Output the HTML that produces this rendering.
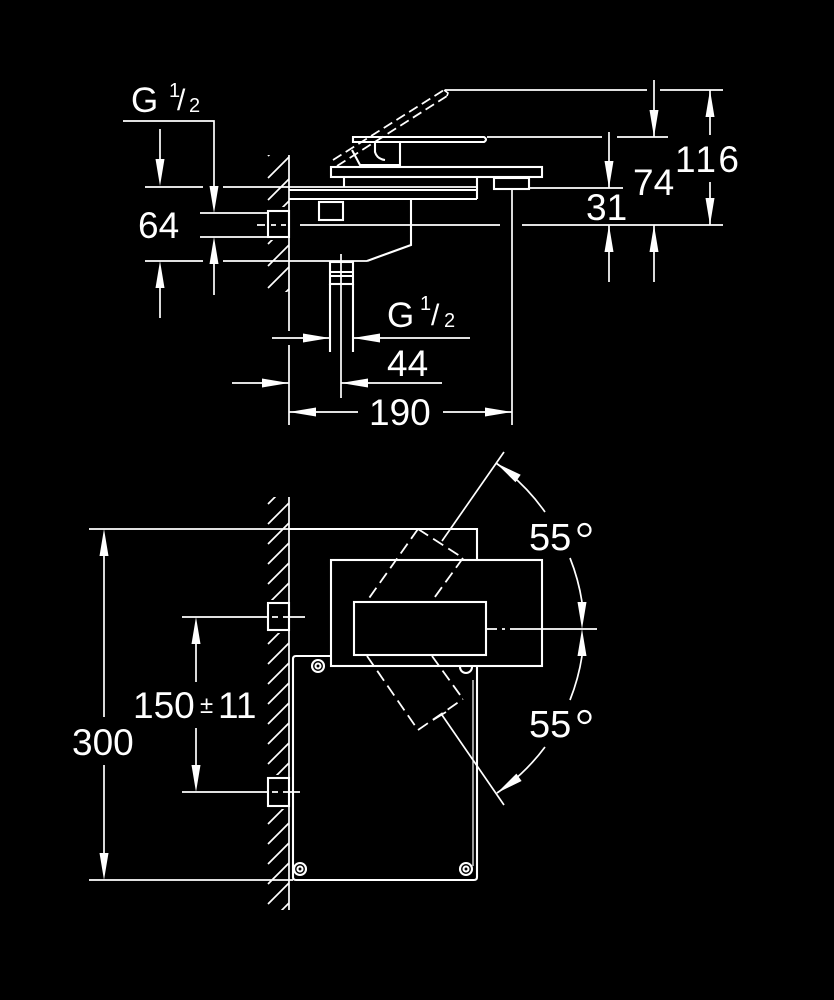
<!DOCTYPE html>
<html><head><meta charset="utf-8"><style>
html,body{margin:0;padding:0;background:#000;}
svg{display:block;}
text{font-family:"Liberation Sans",Arial,sans-serif;fill:#fff;}
</style></head><body>
<svg width="834" height="1000" viewBox="0 0 834 1000" xmlns="http://www.w3.org/2000/svg">
<rect width="834" height="1000" fill="#000"/>
<defs>
<clipPath id="ht"><rect x="266" y="155" width="23" height="52"/><rect x="266" y="240" width="23" height="52"/></clipPath>
<clipPath id="hb"><rect x="266" y="497" width="23" height="103"/><rect x="266" y="633" width="23" height="142"/><rect x="266" y="809" width="23" height="101"/></clipPath>
</defs>

<!-- ============ TOP DRAWING ============ -->
<g stroke="#fff" fill="none" stroke-width="1.7">
<path clip-path="url(#ht)" d="M268,156L289,135 M268,178L289,157 M268,200L289,179 M268,222L289,201 M268,244L289,223 M268,266L289,245 M268,288L289,267 M268,310L289,289"/>
<path d="M289,155V331 M289,345V425"/>
<path d="M123,121H214V190 M145,187H203 M223,187H477 M200,213H268 M200,237H268 M145,261H203 M223,261H367"/>
<path d="M160,129V170 M160,275V318 M214,250V295"/>
<path d="M257,225H265 M271,225H276 M281,225H286 M300,225H500 M522,225H723"/>
<path d="M445,90H647 M660,90H723 M487,137H602 M617,137H668 M529,188H623"/>
<path d="M710,90V135 M710,182V225 M654,80V137 M654,225V282 M609,132V188 M609,225V282"/>
<path d="M272,338H330 M353,338H470 M232,383H289 M341,383H442 M289,412H358 M443,412H512"/>
<path d="M512,189V425 M341,254V398"/>
</g>
<g stroke="#fff" fill="none" stroke-width="2.1">
<rect x="268" y="211" width="21" height="26"/>
<rect x="331" y="167" width="211" height="10"/>
<path d="M344,177V187 M477,177V199 M289,190H477 M289,199H477"/>
<rect x="319" y="202" width="24" height="18"/>
<path d="M411,199V245L367,261"/>
<rect x="494" y="178" width="35" height="11"/>
<rect x="330" y="262" width="23" height="22"/>
<path d="M330,272H353 M330,276H353 M330,284V352 M353,284V352"/>
<path d="M353,137H484Q488,139.5 484,142H353Z"/>
<path d="M352,150L360,165H400V142 M375,142V152Q377,159 385,160"/>
</g>
<g stroke="#fff" fill="none" stroke-width="1.8" stroke-dasharray="10,5">
<path d="M333,160L444,90 M337,166L447,96"/>
</g>
<path d="M444,90L448,93L447,96" stroke="#fff" fill="none" stroke-width="1.6"/>

<g fill="#fff">
<polygon points="160,186 155.5,159 164.5,159"/>
<polygon points="160,261 155.5,288 164.5,288"/>
<polygon points="214,213 209.5,186 218.5,186"/>
<polygon points="214,237 209.5,264 218.5,264"/>
<polygon points="710,90 705.5,117 714.5,117"/>
<polygon points="710,225 705.5,198 714.5,198"/>
<polygon points="654,137 649.5,110 658.5,110"/>
<polygon points="654,225 649.5,252 658.5,252"/>
<polygon points="609,188 604.5,161 613.5,161"/>
<polygon points="609,225 604.5,252 613.5,252"/>
<polygon points="330,338 303,333.5 303,342.5"/>
<polygon points="353,338 380,333.5 380,342.5"/>
<polygon points="289,383 262,378.5 262,387.5"/>
<polygon points="341,383 368,378.5 368,387.5"/>
<polygon points="289,412 316,407.5 316,416.5"/>
<polygon points="512,412 485,407.5 485,416.5"/>
</g>

<text x="131" y="112" font-size="35">G</text>
<text x="169" y="97" font-size="20">1</text>
<text x="177" y="110" font-size="30">/</text>
<text x="189" y="112" font-size="20">2</text>
<text x="138" y="238" font-size="37">64</text>
<text x="675" y="172" font-size="37" letter-spacing="2.5">116</text>
<text x="633" y="195" font-size="37">74</text>
<text x="586" y="220" font-size="37">31</text>
<text x="387" y="327" font-size="35">G</text>
<text x="420" y="310" font-size="20">1</text>
<text x="431" y="325" font-size="30">/</text>
<text x="444" y="327" font-size="20">2</text>
<text x="387" y="376" font-size="37">44</text>
<text x="369" y="425" font-size="37">190</text>

<!-- ============ BOTTOM DRAWING ============ -->
<g stroke="#fff" fill="none" stroke-width="1.7">
<path clip-path="url(#hb)" d="M268,504L289,483 M268,524L289,503 M268,544L289,523 M268,564L289,543 M268,584L289,563 M268,604L289,583 M268,624L289,603 M268,644L289,623 M268,664L289,643 M268,684L289,663 M268,704L289,683 M268,724L289,703 M268,744L289,723 M268,764L289,743 M268,784L289,763 M268,804L289,783 M268,824L289,803 M268,844L289,823 M268,864L289,843 M268,884L289,863 M268,904L289,883 M268,924L289,903"/>
<path d="M289,497V910"/>
<path d="M89,529H289 M89,880H293"/>
<path d="M104,556V717 M104,765V853"/>
<path d="M182,617H268 M272,617H278 M283,617H305 M182,792H268 M272,792H278 M283,792H300"/>
<path d="M196,644V682 M196,728V765"/>
<path d="M486,629H497 M502,629H505 M510,629H597"/>
<path d="M442,541L504,452 M442,715L504,805 M433,720L446,712"/>
<path d="M496,463A202,202 0 0 1 545,512 M570,558A202,202 0 0 1 582,602 M582,656A202,202 0 0 1 570,700 M545,747A202,202 0 0 1 497,793"/>
</g>
<g stroke="#fff" fill="none" stroke-width="2.1">
<rect x="268" y="603" width="21" height="27"/>
<rect x="268" y="778" width="21" height="28"/>
<path d="M289,529H477V560"/>
<rect x="331" y="560" width="211" height="106"/>
<rect x="354" y="602" width="132" height="53"/>
<path d="M331,656H296Q293,656 293,659V877Q293,880 296,880H474Q477,880 477,877V666"/>
<path d="M473,680V866" stroke-width="1.2"/>
<circle cx="300" cy="869" r="6"/><circle cx="300" cy="869" r="2.5"/>
<circle cx="466" cy="869" r="6"/><circle cx="466" cy="869" r="2.5"/>
<circle cx="318" cy="666" r="6"/><circle cx="318" cy="666" r="2.5"/>
<path d="M460,667A6,6 0 0 0 472,667"/>
</g>
<g stroke="#fff" fill="none" stroke-width="1.8" stroke-dasharray="12,6">
<path d="M418,529L367,601 M463,558L432,601 M418,529L463,558"/>
<path d="M367,656L418,730 M432,656L463,699 M418,730L463,699"/>
</g>
<g fill="#fff">
<polygon points="104,529 99.5,556 108.5,556"/>
<polygon points="104,880 99.5,853 108.5,853"/>
<polygon points="196,617 191.5,644 200.5,644"/>
<polygon points="196,792 191.5,765 200.5,765"/>
<polygon points="582,629 577.5,602 586.5,602"/>
<polygon points="582,629 577.5,656 586.5,656"/>
<polygon points="496,463 520.7,474.8 515.5,482.2"/>
<polygon points="497,793 521.6,781 516.4,773.6"/>
</g>
<text x="72" y="755" font-size="37">300</text>
<text x="133" y="718" font-size="37">150</text>
<text x="200" y="713" font-size="24">±</text>
<text x="218" y="718" font-size="37">11</text>
<text x="529" y="550" font-size="38">55</text>
<circle cx="584.5" cy="530" r="6" stroke="#fff" stroke-width="2.2" fill="none"/>
<text x="529" y="737" font-size="38">55</text>
<circle cx="584.5" cy="717" r="6" stroke="#fff" stroke-width="2.2" fill="none"/>
</svg>
</body></html>
